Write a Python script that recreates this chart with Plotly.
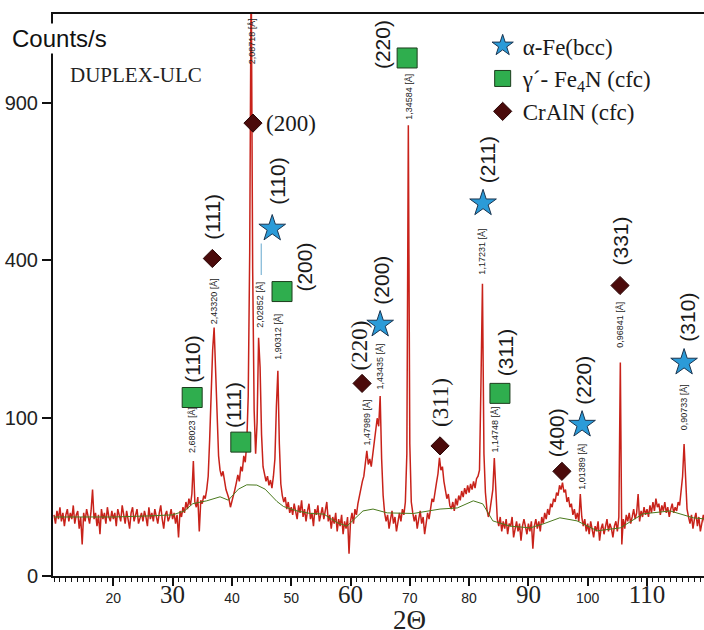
import numpy as np
import plotly.graph_objects as go

# ---------------- data ----------------
# measured pattern, counts/s sampled every 0.25 deg from 10 to 120 deg 2-theta
two_theta = np.round(np.arange(10.0, 120.001, 0.25), 2)
counts = [
    15, 11, 17, 13, 19, 12, 16, 10, 15, 18, 12, 16, 13, 20, 11, 15, 17, 9, 14, 4,
    16, 12, 18, 14, 11, 17, 30, 13, 16, 10, 15, 7, 18, 13, 16, 11, 19, 14, 12, 17,
    13, 16, 10, 18, 14, 12, 20, 15, 11, 17, 13, 9, 16, 19, 12, 15, 18, 11, 14, 16,
    12, 17, 14, 10, 19, 13, 16, 12, 18, 14, 11, 16, 20, 13, 9, 15, 17, 12, 14, 18,
    13, 16, 11, 15, 6, 17, 14, 19, 16, 22, 18, 24, 20, 27, 53, 22, 19, 25, 8, 23,
    21, 26, 24, 30, 40, 75, 140, 205, 248, 160, 92, 58, 45, 40, 44, 36, 30, 27, 24, 19,
    22, 26, 30, 35, 41, 36, 48, 44, 58, 52, 70, 130, 420, 1500, 380, 110, 60, 95, 228, 175,
    80, 48, 42, 36, 40, 33, 37, 31, 40, 55, 115, 169, 70, 34, 26, 22, 25, 18, 22, 16,
    19, 15, 21, 17, 13, 20, 16, 23, 14, 18, 12, 17, 21, 13, 16, 10, 18, 15, 20, 12,
    16, 19, 13, 17, 22, 12, 15, 9, 14, 11, 16, 8, 13, 10, 15, 7, 12, 9, 14, 2,
    12, 16, 11, 18, 15, 21, 26, 31, 36, 40, 50, 63, 50, 55, 48, 60, 70, 92, 100, 90,
    130, 55, 26, 16, 12, 15, 9, 13, 17, 11, 14, 8, 13, 16, 12, 18, 15, 22, 60, 816,
    70, 22, 16, 12, 15, 9, 13, 17, 11, 14, 7, 12, 16, 13, 19, 24, 22, 30, 35, 42,
    56, 45, 48, 36, 30, 24, 27, 20, 18, 22, 17, 24, 20, 26, 23, 29, 25, 31, 27, 33,
    28, 34, 30, 36, 31, 38, 40, 45, 150, 343, 60, 28, 18, 14, 17, 22, 30, 56, 24, 13,
    10, 14, 8, 12, 9, 13, 7, 11, 10, 14, 6, 9, 12, 8, 11, 5, 10, 13, 9, 7,
    11, 8, 12, 3, 10, 13, 9, 12, 8, 14, 11, 16, 13, 18, 15, 21, 19, 24, 22, 28,
    26, 33, 30, 35, 28, 30, 22, 25, 19, 21, 15, 18, 13, 16, 12, 27, 14, 10, 13, 8,
    11, 7, 12, 9, 6, 10, 8, 12, 5, 9, 11, 7, 10, 13, 8, 11, 9, 6, 10, 12,
    8, 14, 183, 4, 13, 9, 15, 12, 16, 11, 14, 18, 13, 16, 27, 12, 17, 14, 19, 15,
    18, 14, 20, 16, 22, 17, 24, 19, 21, 15, 20, 17, 22, 16, 19, 14, 18, 21, 16, 19,
    17, 22, 20, 30, 40, 70, 32, 18, 14, 11, 15, 9, 13, 16, 10, 14, 8, 12, 15, 11,
    13,
]

# fitted background (green line)
bg_2theta = [10, 20, 26, 30, 32, 33.4, 35.75, 38.0, 39.4, 41.1, 42.5, 44.2, 45.6, 46.4,
             47.6, 48.7, 51.0, 53.2, 55.5, 57.7, 59.4, 62.1, 63.8, 66.2, 70.6, 75.1,
             78.0, 80.7, 82.3, 84.0, 86.9, 90.3, 92.5, 95.3, 98.2, 101.6, 105.5, 109.3,
             113.9, 117.8, 120]
bg_counts = [14, 14, 14.5, 15, 17, 21, 22.7, 25.2, 23.1, 30.3, 33.4, 33.2, 30.3, 26.9,
             22.3, 19.4, 17, 15.7, 15.4, 11.5, 10, 17, 18, 16, 15.7, 18, 18.6, 22.7,
             20.9, 12.2, 10, 9.3, 10.9, 13.6, 12.2, 8.2, 9.3, 15.5, 17, 13.6, 13]

# d-spacing labels of the peaks
d_text = ["2,68023 [Å]", "2,43320 [Å]", "2,08718 [Å]", "2,02852 [Å]", "1,90312 [Å]",
          "1,47989 [Å]", "1,43435 [Å]", "1,34584 [Å]", "1,17231 [Å]", "1,14748 [Å]",
          "1,01389 [Å]", "0,96841 [Å]", "0,90733 [Å]"]
d_2theta = [33.3, 36.95, 43.4, 44.6, 47.65, 62.75, 64.95, 69.8, 82.2, 84.3, 98.9, 105.45, 116.25]
d_label_counts = [58, 248, 1040, 242, 183, 65, 135, 824, 358, 58, 28, 204, 82]

# phase identification
fe_hkl = ["(110)", "(200)", "(211)", "(220)", "(310)"]
fe_2theta = [46.8, 65.0, 82.35, 99.05, 116.25]
fe_counts = [485, 254, 558, 92, 183]

gp_hkl = ["(110)", "(111)", "(200)", "(220)", "(311)"]
gp_2theta = [33.3, 41.5, 48.45, 69.55, 85.2]
gp_counts = [128, 72, 325, 1078, 134]

cr_hkl = ["(111)", "(200)", "(220)", "(311)", "(400)", "(331)"]
cr_2theta = [36.7, 43.55, 61.95, 75.1, 95.65, 105.45]
cr_counts = [405, 824, 149, 68, 44, 339]

# leader line from the alpha-Fe (110) marker down to the 2,02852 label
leader_2theta = 44.95
leader_counts = 444

y_tick_values = [0, 100, 400, 900]
x_tick_values = [20, 30, 40, 50, 60, 70, 80, 90, 100, 110]

# ---------------- styles / label placement ----------------
SANS = "Liberation Sans, Arial, sans-serif"
SERIF = "Liberation Serif, Times New Roman, serif"

fe_dx = [5, 1, 4, 2, 3]
fe_dy = [47, 44, 43, 44, 45]
gp_dx = [0, -8, 23, -24, 5]
gp_dy = [38, 37, 24, 13, 41]
cr_dx = [0, 38, -3, 1, -6, 0]
cr_dy = [42, 0, 38, 43, 39, 44]
cr_angle = [-90, 0, -90, -90, -90, -90]
cr_font = [SANS, SERIF, SERIF, SERIF, SANS, SANS]
cr_size = [21, 23, 23, 23, 21, 21]

big_x = {30, 60, 90, 110}
x_tick_text = [
    (f'<span style="font-family:Liberation Serif;font-size:25px">{v}</span>' if v in big_x else str(v))
    for v in x_tick_values
]

fig = go.Figure()

fig.add_trace(go.Scatter(
    x=two_theta, y=np.sqrt(np.array(counts, dtype=float)), mode="lines",
    line=dict(color="#c8221a", width=1.5), showlegend=False, hoverinfo="skip"))

fig.add_trace(go.Scatter(
    x=bg_2theta, y=np.sqrt(np.array(bg_counts, dtype=float)), mode="lines",
    line=dict(color="#4a7a1e", width=1), showlegend=False, hoverinfo="skip"))

fig.add_trace(go.Scatter(
    x=fe_2theta, y=np.sqrt(fe_counts), mode="markers", name="α-Fe(bcc)",
    marker=dict(symbol="star", size=20, color="#2b9bd8", line=dict(color="#1b3550", width=1))))
fig.add_trace(go.Scatter(
    x=gp_2theta, y=np.sqrt(gp_counts), mode="markers", name="γ´- Fe<sub>4</sub>N (cfc)",
    marker=dict(symbol="square", size=20, color="#2fae4e", line=dict(color="#1d3d1d", width=1))))
fig.add_trace(go.Scatter(
    x=cr_2theta, y=np.sqrt(cr_counts), mode="markers", name="CrAlN (cfc)",
    marker=dict(symbol="diamond", size=14, color="#4b0b0b", line=dict(color="#2a0505", width=1))))

annotations = [
    dict(x=leader_2theta, y=np.sqrt(leader_counts), text="", showarrow=True, arrowhead=0,
         ax=0, ay=33, arrowcolor="#7fb6d6", arrowwidth=1.2, standoff=0, startstandoff=0),
]
for txt, xv, yv, dx, dy in zip(fe_hkl, fe_2theta, fe_counts, fe_dx, fe_dy):
    annotations.append(dict(x=xv, y=np.sqrt(yv), text=txt, textangle=-90, showarrow=False,
                            xshift=dx, yshift=dy, font=dict(family=SANS, size=21, color="#1a1a1a")))
for txt, xv, yv, dx, dy in zip(gp_hkl, gp_2theta, gp_counts, gp_dx, gp_dy):
    annotations.append(dict(x=xv, y=np.sqrt(yv), text=txt, textangle=-90, showarrow=False,
                            xshift=dx, yshift=dy, font=dict(family=SANS, size=21, color="#1a1a1a")))
for txt, xv, yv, dx, dy, ang, fam, sz in zip(cr_hkl, cr_2theta, cr_counts, cr_dx, cr_dy,
                                             cr_angle, cr_font, cr_size):
    annotations.append(dict(x=xv, y=np.sqrt(yv), text=txt, textangle=ang, showarrow=False,
                            xshift=dx, yshift=dy, font=dict(family=fam, size=sz, color="#1a1a1a")))
for txt, xv, yv in zip(d_text, d_2theta, d_label_counts):
    annotations.append(dict(x=xv, y=np.sqrt(yv), text=txt, textangle=-90, showarrow=False,
                            yanchor="bottom", xanchor="center", yshift=1,
                            font=dict(family=SANS, size=9, color="#222")))

annotations += [
    dict(xref="paper", yref="paper", x=-0.066, y=0.957, xanchor="left", yanchor="middle",
         text="Counts/s", showarrow=False, bgcolor="white",
         font=dict(family=SANS, size=24, color="#111")),
    dict(xref="paper", yref="paper", x=0.023, y=0.891, xanchor="left", yanchor="middle",
         text="DUPLEX-ULC", showarrow=False, font=dict(family=SERIF, size=21, color="#222")),
    dict(xref="paper", yref="paper", x=0.547, y=-0.078, xanchor="center", yanchor="middle",
         text="2Θ", showarrow=False, font=dict(family=SERIF, size=27, color="#222")),
]

fig.update_layout(
    width=704, height=630,
    margin=dict(l=53, r=0, t=14, b=54, autoexpand=False),
    paper_bgcolor="white", plot_bgcolor="white",
    showlegend=True,
    legend=dict(x=0.660, y=0.982, xanchor="left", yanchor="top",
                font=dict(family=SERIF, size=23, color="#1a1a1a"),
                bgcolor="rgba(0,0,0,0)", itemsizing="trace", tracegroupgap=0),
    annotations=annotations,
    xaxis=dict(range=[9.83, 119.61], showgrid=False, zeroline=False, automargin=False,
               showline=True, linecolor="#111", linewidth=2, mirror=True,
               ticks="outside", ticklen=8, tickwidth=1.5, tickcolor="#111",
               tickvals=x_tick_values, ticktext=x_tick_text,
               tickfont=dict(family=SANS, size=14, color="#222"),
               minor=dict(dtick=1, ticks="outside", ticklen=4, tickwidth=1, tickcolor="#111")),
    yaxis=dict(range=[0, 35.62], showgrid=False, zeroline=False, automargin=False,
               showline=True, linecolor="#111", linewidth=2,
               ticks="outside", ticklen=9, tickwidth=1.5, tickcolor="#111",
               tickvals=np.sqrt(y_tick_values), ticktext=[str(v) for v in y_tick_values],
               tickfont=dict(family=SANS, size=20, color="#222")),
)

fig.write_html("out.html", config={"displayModeBar": False},
               post_script="document.body.style.margin='0';document.body.style.padding='0';")
